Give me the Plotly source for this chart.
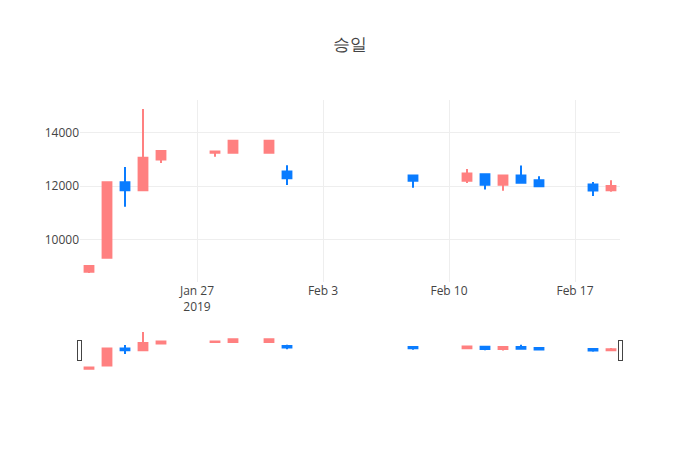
import plotly.graph_objects as go

dates = ["2019-01-21", "2019-01-22", "2019-01-23", "2019-01-24", "2019-01-25",
         "2019-01-28", "2019-01-29", "2019-01-31", "2019-02-01", "2019-02-08",
         "2019-02-11", "2019-02-12", "2019-02-13", "2019-02-14", "2019-02-15",
         "2019-02-18", "2019-02-19"]
opens = [8800, 9330, 12150, 11850, 13000, 13250, 13250, 13250, 12550, 12400,
         12200, 12450, 12050, 12400, 12220, 12060, 11850]
highs = [9020, 12150, 12720, 14880, 13310, 13300, 13700, 13700, 12780, 12400,
         12640, 12480, 12400, 12770, 12370, 12160, 12220]
lows = [8760, 9330, 11230, 11850, 12870, 13100, 13250, 13250, 12040, 11940,
        12120, 11880, 11830, 12090, 12000, 11630, 11790]
closes = [9020, 12150, 11850, 13060, 13310, 13300, 13700, 13700, 12300, 12200,
          12470, 12050, 12400, 12130, 12000, 11840, 12010]

fig = go.Figure(go.Candlestick(
    x=dates, open=opens, high=highs, low=lows, close=closes,
    increasing=dict(line=dict(color="#FF8080"), fillcolor="#FF8080"),
    decreasing=dict(line=dict(color="#0A7CFF"), fillcolor="#0A7CFF"),
))
fig.update_layout(
    template="none",
    width=700, height=450,
    title=dict(text="승일", x=0.5, xanchor="center"),
    xaxis=dict(rangeslider=dict(visible=True)),
    yaxis=dict(tickformat="d"),
    showlegend=False,
)
fig.write_html("out.html", config={"displayModeBar": False},
               post_script="document.body.style.margin='0';")
